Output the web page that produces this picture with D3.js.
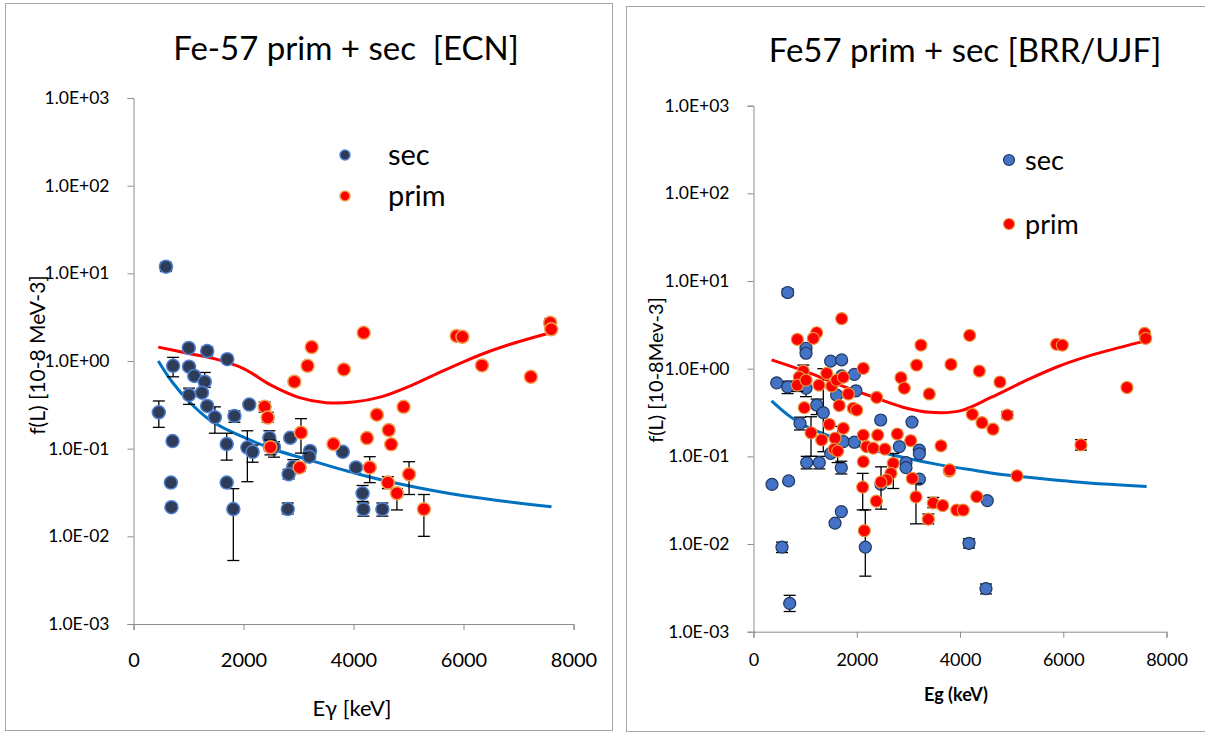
<!DOCTYPE html>
<html><head><meta charset="utf-8">
<script src="https://cdn.jsdelivr.net/npm/d3@7"></script>
<style>
body{margin:0;background:#fff;}
svg{display:block;}
text{font-family:Lato,"Open Sans","Noto Sans",sans-serif;fill:#000;}
</style>
</head><body>
<svg id="c" width="1205" height="733"></svg>
<script>
// ---------------- DATA ----------------
const xTicks = [0, 2000, 4000, 6000, 8000];
const yTicks = [1e-3, 1e-2, 1e-1, 1, 10, 100, 1000];

const leftTitle = "Fe-57 prim + sec  [ECN]";
const rightTitle = "Fe57 prim + sec [BRR/UJF]";
const leftXLabel = "Eγ [keV]";
const rightXLabel = "Eg (keV)";
const leftYLabel = "f(L) [10-8 MeV-3]";
const rightYLabel = "f(L) [10-8Mev-3]";
const legendNames = ["sec", "prim"];

// Left (ECN) secondary
const ecnSecX  = [590,720,460,710,680,690,1005,1010,1105,1295,1245,1010,1340,1340,1705,1480,1695,1695,1815,1835,2105,2070,2165,2470,2480,2555,2850,2905,2820,2805,3210,3195,3805,4045,4165,4180,4525];
const ecnSecY  = [11.9,0.88,0.26,0.122,0.041,0.0215,1.41,0.86,0.675,0.58,0.435,0.41,1.30,0.307,1.05,0.228,0.113,0.041,0.0205,0.236,0.318,0.103,0.092,0.133,0.105,0.104,0.133,0.062,0.051,0.0205,0.094,0.081,0.092,0.061,0.031,0.0204,0.0204];
const ecnSecLo = [10.5,0.66,0.175,null,null,null,null,null,null,0.50,null,0.32,1.15,null,null,0.15,0.074,null,0.0053,0.20,null,0.042,0.07,0.115,null,0.08,null,0.052,0.045,0.018,0.085,null,null,null,0.025,0.017,0.017];
const ecnSecHi = [13.3,1.10,0.35,null,null,null,null,null,null,0.74,null,0.49,1.45,null,null,0.30,0.15,null,0.035,0.27,null,0.16,0.11,0.16,null,0.12,null,0.075,0.058,0.024,0.104,null,null,null,0.038,0.024,0.024];

// Left (ECN) primary
const ecnPrimX  = [2385,2440,2490,2925,3020,3045,3165,3240,3635,3825,4185,4245,4295,4425,4640,4685,4625,4790,4910,5010,5280,5875,5980,6335,7225,7575,7595];
const ecnPrimY  = [0.30,0.226,0.104,0.58,0.061,0.152,0.88,1.44,0.113,0.80,2.10,0.132,0.061,0.244,0.163,0.112,0.041,0.031,0.30,0.051,0.0204,1.93,1.89,0.89,0.66,2.73,2.30];
const ecnPrimLo = [0.26,0.20,0.085,null,0.055,0.089,null,null,null,null,null,null,0.041,null,null,null,0.035,0.020,null,0.030,0.010,null,null,null,null,2.45,null];
const ecnPrimHi = [0.34,0.26,0.125,null,0.068,0.22,null,null,null,null,null,null,0.081,null,null,null,0.048,0.035,null,0.071,0.030,null,null,null,null,3.05,null];

// Left fitted curves
const ecnPrimCurveX = [450,1000,1500,2000,2500,3000,3500,4000,4500,5000,5500,6000,6500,7000,7650];
const ecnPrimCurveY = [1.44,1.22,1.05,0.82,0.53,0.385,0.335,0.34,0.39,0.51,0.71,0.98,1.31,1.66,2.16];
const ecnSecCurveX  = [450,700,1000,1400,2000,2600,3200,4100,4800,6000,7600];
const ecnSecCurveY  = [1.0,0.58,0.35,0.21,0.135,0.096,0.074,0.051,0.040,0.029,0.0217];

// Right (BRR/UJF) secondary
const brrSecX  = [662,449,662,1017,1017,1017,1495,1708,1708,1953,1611,1985,1224,1352,901,2464,3070,1740,1953,1495,2825,3212,3212,2954,2954,3212,1030,1275,1701,2470,358,681,1701,1579,552,2166,701,4529,4175,4503];
const brrSecY  = [7.4,0.69,0.62,1.71,1.50,0.60,1.22,1.26,0.83,0.86,0.50,0.56,0.385,0.315,0.238,0.26,0.246,0.147,0.145,0.108,0.129,0.118,0.107,0.085,0.0743,0.055,0.085,0.085,0.0743,0.048,0.048,0.0525,0.0234,0.0173,0.0092,0.0092,0.0021,0.0313,0.0102,0.0031];
const brrSecLo = [6.8,null,0.52,null,null,0.48,null,null,null,null,null,null,0.30,0.113,0.20,null,null,null,null,null,null,null,null,null,null,null,0.072,0.072,0.063,null,null,null,null,null,0.0080,0.0043,0.0017,null,0.009,0.0027];
const brrSecHi = [8.1,null,0.72,null,null,0.72,null,null,null,null,null,null,0.45,1.0,0.28,null,null,null,null,null,null,null,null,null,null,null,0.10,0.10,0.088,null,null,null,null,null,0.0105,0.0245,0.0026,null,0.0115,0.0035];

// Right (BRR/UJF) primary
const brrPrimX  = [1708,849,1224,1159,3244,3160,3825,2127,2857,2921,3405,2386,965,887,849,1017,1269,1418,1515,1611,1740,1837,984,1661,1933,1999,1468,1740,1114,1321,1579,1565,1630,2127,2406,2786,3045,2192,2320,2547,3632,2127,2708,3793,2663,2580,2470,3076,2115,3147,2379,3483,3665,3386,3936,4063,2146,4187,4374,4774,4238,4426,4639,4916,5872,5982,7577,7597,7234,6343,3800,5104,4323];
const brrPrimY  = [3.72,2.16,2.57,2.22,1.86,1.10,1.12,1.01,0.79,0.60,0.515,0.47,0.94,0.80,0.65,0.74,0.65,0.886,0.634,0.74,0.80,0.515,0.359,0.38,0.354,0.338,0.232,0.209,0.186,0.154,0.161,0.121,0.115,0.175,0.175,0.18,0.151,0.129,0.124,0.121,0.132,0.087,0.0834,0.068,0.064,0.054,0.051,0.056,0.0446,0.0345,0.0309,0.0294,0.0275,0.0192,0.0244,0.0244,0.0142,2.40,0.94,0.705,0.302,0.242,0.204,0.296,1.90,1.86,2.53,2.22,0.61,0.135,0.070,0.060,0.0347];
const brrPrimLo = [null,null,null,null,null,null,null,null,null,null,null,null,0.80,null,0.55,null,null,null,null,null,null,null,null,null,null,null,null,null,0.10,null,null,null,0.085,null,null,null,null,null,null,null,null,null,0.043,null,null,null,0.025,null,0.0245,0.017,null,0.026,null,0.017,null,null,null,null,null,null,null,null,null,0.27,null,null,null,null,null,0.118,null,null,null];
const brrPrimHi = [null,null,null,null,null,null,null,null,null,null,null,null,1.10,null,0.72,null,null,null,null,null,null,null,null,null,null,null,null,null,0.283,null,null,null,0.22,null,null,null,null,null,null,null,null,null,0.108,null,null,null,0.076,null,0.064,0.049,null,0.034,null,0.022,null,null,null,null,null,null,null,null,null,0.325,null,null,null,null,null,0.155,null,null,null];

// Right fitted curves
const brrPrimCurveX = [350,1030,1675,2390,2970,3420,4000,4600,5250,5900,6500,7100,7615];
const brrPrimCurveY = [1.26,0.92,0.65,0.46,0.354,0.318,0.33,0.47,0.72,1.06,1.40,1.75,2.09];
const brrSecCurveX  = [350,710,1030,1675,2320,2970,3610,4300,4900,5600,6190,6900,7615];
const brrSecCurveY  = [0.43,0.284,0.218,0.154,0.118,0.095,0.080,0.069,0.0613,0.0555,0.0515,0.048,0.0452];

// ---------------- DRAW ----------------
const svg = d3.select("#c");
const FONT = "Lato, 'Open Sans', sans-serif";
const zip = (xs, ys, lo, hi) => xs.map((x, i) => ({x, y: ys[i], lo: lo ? lo[i] : null, hi: hi ? hi[i] : null}));
const fmtE = v => { const e = Math.round(Math.log10(v)); return "1.0E" + (e < 0 ? "-" : "+") + String(Math.abs(e)).padStart(2, "0"); };

function panel(cfg) {
  svg.append("rect").attr("x", cfg.box[0] + 0.5).attr("y", cfg.box[1] + 0.5)
    .attr("width", cfg.box[2]).attr("height", cfg.box[3])
    .attr("fill", "#fff").attr("stroke", "#a6a6a6").attr("stroke-width", 1);

  const x = d3.scaleLinear().domain([0, 8000]).range([cfg.x0, cfg.x1]);
  const y = d3.scaleLog().domain([1e-3, 1e3]).range([cfg.y1, cfg.y0]);
  const g = svg.append("g");

  const ya = g.append("g").attr("transform", `translate(${cfg.x0},0)`)
    .call(d3.axisLeft(y).tickValues(yTicks).tickFormat(fmtE).tickSizeOuter(0).tickSize(6).tickPadding(cfg.yPad));
  ya.selectAll("text").attr("font-size", cfg.yFont + "px").style("font-family", FONT);
  const xa = g.append("g").attr("transform", `translate(0,${cfg.y1})`)
    .call(d3.axisBottom(x).tickValues(xTicks).tickFormat(d3.format("d")).tickSizeOuter(0).tickSize(6));
  xa.selectAll("text").attr("font-size", cfg.xFont + "px").attr("dy", 0).attr("y", cfg.xLabY)
    .style("font-family", FONT);
  g.selectAll(".domain, .tick line").attr("stroke", "#8c8c8c");

  // curves
  const line = d3.line().x(d => x(d.x)).y(d => y(d.y)).curve(d3.curveCatmullRom.alpha(0.5));
  g.append("path").datum(zip(cfg.secCurve[0], cfg.secCurve[1])).attr("d", line)
    .attr("fill", "none").attr("stroke", "#0070c0").attr("stroke-width", 3);
  g.append("path").datum(zip(cfg.primCurve[0], cfg.primCurve[1])).attr("d", line)
    .attr("fill", "none").attr("stroke", "#ff0000").attr("stroke-width", 3);

  function series(data, st) {
    const eb = data.filter(d => d.lo != null);
    const ge = g.append("g").attr("stroke", "#000").attr("stroke-width", 1.3);
    eb.forEach(d => {
      const cx = x(d.x);
      ge.append("line").attr("x1", cx).attr("x2", cx).attr("y1", y(d.lo)).attr("y2", y(d.hi));
      ge.append("line").attr("x1", cx - 6).attr("x2", cx + 6).attr("y1", y(d.lo)).attr("y2", y(d.lo));
      ge.append("line").attr("x1", cx - 6).attr("x2", cx + 6).attr("y1", y(d.hi)).attr("y2", y(d.hi));
    });
    g.append("g").selectAll("circle").data(data).join("circle")
      .attr("cx", d => x(d.x)).attr("cy", d => y(d.y)).attr("r", st.r)
      .attr("fill", st.fill).attr("stroke", st.stroke).attr("stroke-width", st.sw);
  }
  series(zip(...cfg.sec), cfg.secStyle);
  series(zip(...cfg.prim), cfg.primStyle);

  // title
  svg.append("text").attr("x", cfg.title[1]).attr("y", cfg.title[2]).attr("text-anchor", "middle")
    .style("white-space", "pre").attr("xml:space", "preserve")
    .attr("font-size", cfg.titleFont + "px").text(cfg.title[0]);
  // x label
  svg.append("text").attr("x", cfg.xl[1]).attr("y", cfg.xl[2]).attr("text-anchor", "middle")
    .attr("font-size", cfg.xlFont + "px").attr("font-weight", cfg.xlBold ? "bold" : "normal").text(cfg.xl[0]);
  // y label
  svg.append("text").attr("transform", `translate(${cfg.yl[1]},${cfg.yl[2]}) rotate(-90)`).attr("text-anchor", "middle")
    .attr("font-size", cfg.ylFont + "px").text(cfg.yl[0]);
  // legend
  cfg.legend.forEach((L, i) => {
    const st = i === 0 ? cfg.secStyle : cfg.primStyle;
    svg.append("circle").attr("cx", L[0]).attr("cy", L[1]).attr("r", cfg.legR)
      .attr("fill", st.fill).attr("stroke", st.stroke).attr("stroke-width", st.sw);
    svg.append("text").attr("x", L[2]).attr("y", L[1] + 10).attr("font-size", cfg.legFont + "px").text(legendNames[i]);
  });
}

panel({
  box: [5, 3, 607, 727], x0: 133.5, x1: 573.5, y0: 98, y1: 624,
  yPad: 18, yFont: 17.5, xFont: 20, xLabY: 43,
  sec: [ecnSecX, ecnSecY, ecnSecLo, ecnSecHi],
  prim: [ecnPrimX, ecnPrimY, ecnPrimLo, ecnPrimHi],
  secCurve: [ecnSecCurveX, ecnSecCurveY], primCurve: [ecnPrimCurveX, ecnPrimCurveY],
  secStyle: {r: 6.5, fill: "#2e3c58", stroke: "#4f7fd0", sw: 1.5},
  primStyle: {r: 6.5, fill: "#ff0000", stroke: "#f0a050", sw: 1.5},
  title: [leftTitle, 346, 60], titleFont: 33,
  xl: [leftXLabel, 352, 716], xlFont: 22, xlBold: false,
  yl: [leftYLabel, 45, 355], ylFont: 21,
  legend: [[345, 155, 388], [345, 196, 388]], legR: 5, legFont: 29
});
panel({
  box: [626, 6, 585, 725], x0: 753.5, x1: 1166.5, y0: 105.7, y1: 631.7,
  yPad: 18, yFont: 17.5, xFont: 18, xLabY: 34,
  sec: [brrSecX, brrSecY, brrSecLo, brrSecHi],
  prim: [brrPrimX, brrPrimY, brrPrimLo, brrPrimHi],
  secCurve: [brrSecCurveX, brrSecCurveY], primCurve: [brrPrimCurveX, brrPrimCurveY],
  secStyle: {r: 6, fill: "#4472c4", stroke: "#1f3864", sw: 1.2},
  primStyle: {r: 6, fill: "#ff0000", stroke: "#e8923a", sw: 1.2},
  title: [rightTitle, 965, 62], titleFont: 33,
  xl: [rightXLabel, 956, 701], xlFont: 18, xlBold: true,
  yl: [rightYLabel, 663, 370], ylFont: 20,
  legend: [[1009, 160, 1025], [1009, 224, 1025]], legR: 5.5, legFont: 27
});
</script>
</body></html>
